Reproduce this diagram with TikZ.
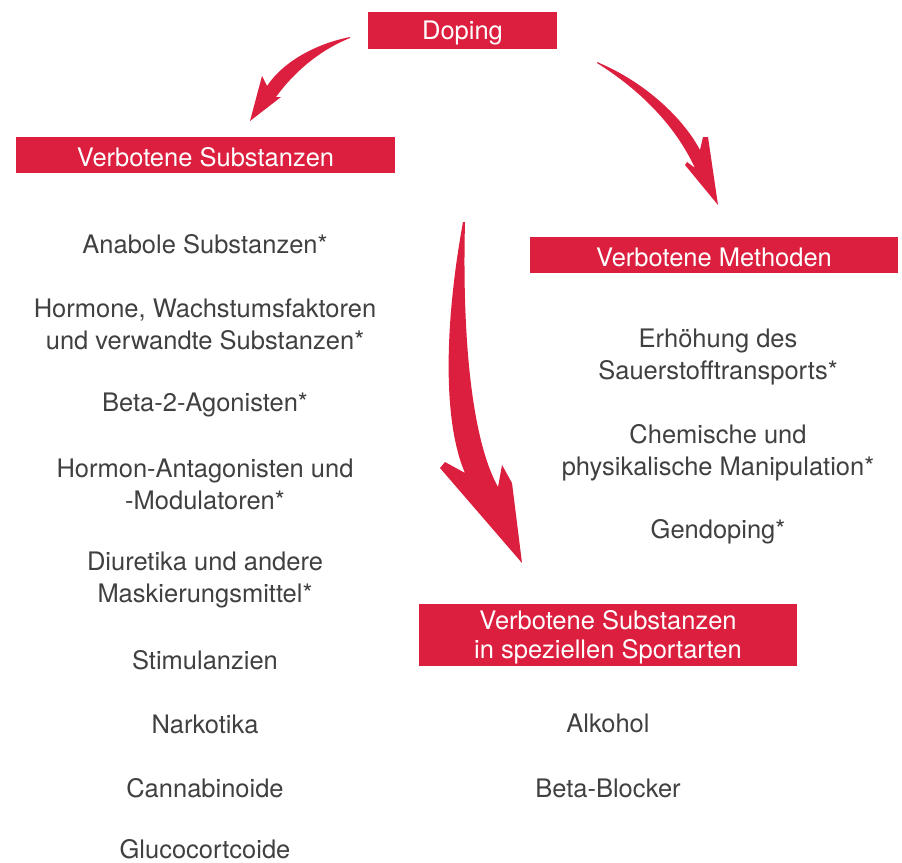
\documentclass[tikz,border=0pt]{standalone}
\usepackage{fontspec}
\setmainfont{TeX Gyre Heros}
\usepackage{tikz}
\usetikzlibrary{positioning}
\usetikzlibrary{calc}

\definecolor{dopred}{RGB}{220,31,62}
\definecolor{doptext}{RGB}{64,64,64}

\begin{document}
\begin{tikzpicture}[x=1pt, y=-1pt,
  redbox/.style={fill=dopred, inner sep=0pt},
  boxtext/.style={text=white, inner sep=0pt, align=center,
    font=\fontsize{25.5}{29}\selectfont},
  item/.style={text=doptext, align=center, inner sep=0pt,
    font=\fontsize{25.5}{32}\selectfont},
  bigarrow/.style={fill=dopred, draw=none}]

\useasboundingbox (0,0) rectangle (902,862);

% boxes
\node[redbox, minimum width=189pt, minimum height=37pt] (doping) at (462.5,30.5) {};
\node[redbox, minimum width=379pt, minimum height=36pt] (subst) at (205.5,155) {};
\node[redbox, minimum width=368pt, minimum height=36pt] (meth) at (714,255) {};
\node[redbox, minimum width=378pt, minimum height=62pt] (sport) at (608,635) {};

\def\ds{-2.5pt}
\node[boxtext] (dopingtxt) at ([yshift=\ds]doping.center) {Doping};
\node[boxtext] (substtxt) at ([yshift=\ds]subst.center) {Verbotene Substanzen};
\node[boxtext] (methtxt) at ([yshift=\ds]meth.center) {Verbotene Methoden};
\node[boxtext] (sporttxt) at ([yshift=\ds]sport.center) {Verbotene Substanzen\\in speziellen Sportarten};

% left list
\def\lx{205}
\node[item] (anab) at (\lx,244) {Anabole Substanzen*};
\node[item] (horm) at (\lx,324) {Hormone, Wachstumsfaktoren\\und verwandte Substanzen*};
\node[item] (beta) at (\lx,405) {Beta-2-Agonisten*};
\node[item] (anta) at (\lx,484.5) {Hormon-Antagonisten und\\-Modulatoren*};
\node[item] (diur) at (\lx,579.5) {Diuretika und andere\\Maskierungsmittel*};
\node[item] (stim) at (\lx,660) {Stimulanzien};
\node[item] (nark) at (\lx,724) {Narkotika};
\node[item] (cann) at (\lx,788) {Cannabinoide};
\node[item] (gluc) at (\lx,849) {Glucocortcoide};

% right list
\def\rx{718}
\node[item] (sauer) at (\rx,357) {Erhöhung des\\Sauerstofftransports*};
\node[item] (chem) at (\rx,452.5) {Chemische und\\physikalische Manipulation*};
\node[item] (gen) at (\rx,532) {Gendoping*};

% sport list
\node[item] (alk) at (608,723) {Alkohol};
\node[item] (bblk) at (608,788) {Beta-Blocker};

% arrows
\fill[bigarrow] (350,37) .. controls (315,44) and (283,62) .. (267,86)
  -- (262,76) -- (250,121) -- (281,97) -- (276,97)
  .. controls (294,72) and (320,50) .. (350,38) -- cycle;

\fill[bigarrow] (597,62) .. controls (645,82) and (683,118) .. (700,150)
  -- (703,137) -- (708,137) -- (718,205) -- (685,165) -- (687,162) -- (695,168)
  .. controls (675,125) and (640,90) .. (597,63) -- cycle;

\fill[bigarrow] (463,222) .. controls (445,320) and (442,420) .. (465,473)
  -- (445,462) -- (440,468) -- (522,563) -- (512,483) -- (502,465) -- (498,487)
  .. controls (472,440) and (462,340) .. (465,222) -- cycle;

\end{tikzpicture}
\end{document}
